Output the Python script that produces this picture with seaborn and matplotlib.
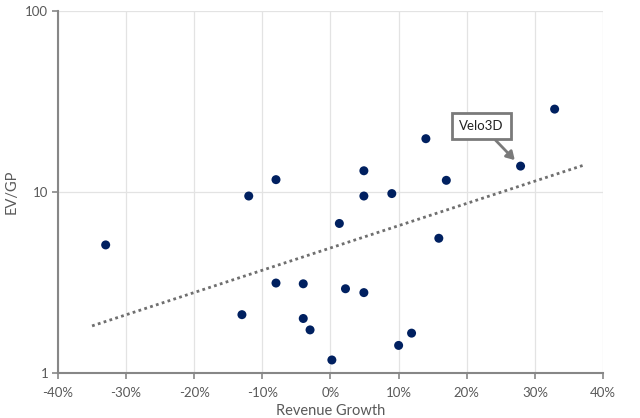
import matplotlib

matplotlib.use("Agg")
import matplotlib.pyplot as plt
import matplotlib.ticker as mticker
import pandas as pd
import seaborn as sns


# revenue growth (%) and EV/GP multiple
REVENUE_GROWTH = [-33, -13, -12, -8, -8, -4, -4, -3, 0.2, 1.3, 2.2, 4.9, 4.9, 4.9,
                  9.0, 10.0, 11.9, 14.0, 15.9, 17.0, 27.9, 32.9]
EV_GP = [5.1, 2.1, 9.5, 11.7, 3.14, 3.11, 2.0, 1.73, 1.18, 6.7, 2.92, 2.78, 13.1, 9.5,
         9.8, 1.42, 1.66, 19.7, 5.55, 11.6, 13.9, 28.7]
HIGHLIGHT = "Velo3D"
HIGHLIGHT_IDX = 20

# end points of the exponential trendline as drawn in the reference
TREND_X = [-35, 37]
TREND_Y = [1.82, 14.0]

X_TICKS = [-40, -30, -20, -10, 0, 10, 20, 30, 40]
Y_TICKS = [1, 10, 100]

GREY_TEXT = "#595959"
SPINE = "#878787"
NAVY = "#002060"


def main() -> None:
    df = pd.DataFrame({"growth": REVENUE_GROWTH, "ev_gp": EV_GP})

    sns.set_theme(style="white")
    plt.rcParams["font.family"] = ["Lato", "DejaVu Sans"]

    fig = plt.figure(figsize=(6.4, 4.18), dpi=100)
    ax = fig.add_axes([0.0906, 0.1077, 0.8516, 0.866])

    sns.scatterplot(data=df, x="growth", y="ev_gp", ax=ax, color=NAVY, s=42,
                    edgecolor="none", zorder=3)

    # on a log axis an exponential trend is a straight line between its ends
    ax.plot(TREND_X, TREND_Y, linestyle=(0, (1, 1.2)), color="#6f6f6f",
            linewidth=2, zorder=2)

    ax.set_yscale("log")
    ax.set_xlim(X_TICKS[0], X_TICKS[-1])
    ax.set_ylim(Y_TICKS[0], Y_TICKS[-1])
    ax.set_xticks(X_TICKS)
    ax.set_yticks(Y_TICKS)
    ax.yaxis.set_minor_locator(mticker.NullLocator())
    ax.xaxis.set_major_formatter(mticker.FuncFormatter(lambda v, _: f"{v:.0f}%"))
    ax.yaxis.set_major_formatter(mticker.FuncFormatter(lambda v, _: f"{v:.0f}"))

    ax.grid(True, color="#e3e3e3", linewidth=0.9)
    ax.set_axisbelow(True)
    for side in ["top", "right"]:
        ax.spines[side].set_visible(False)
    for side in ["left", "bottom"]:
        ax.spines[side].set_color(SPINE)
        ax.spines[side].set_linewidth(1.5)

    ax.tick_params(axis="both", direction="out", length=4, width=1.2, color=SPINE,
                   labelsize=9.5, labelcolor=GREY_TEXT, pad=3)
    ax.tick_params(axis="x", bottom=True, pad=6)
    ax.tick_params(axis="y", left=True)

    ax.set_xlabel("Revenue Growth", fontsize=10.5, color=GREY_TEXT, labelpad=4)
    ax.set_ylabel("EV/GP", fontsize=10.5, color=GREY_TEXT, labelpad=5)

    hx, hy = REVENUE_GROWTH[HIGHLIGHT_IDX], EV_GP[HIGHLIGHT_IDX]
    ax.annotate(
        HIGHLIGHT,
        xy=(hx, hy),
        xytext=(-28, 29),
        textcoords="offset points",
        ha="center",
        va="center",
        fontsize=9.5,
        color="#222222",
        bbox=dict(boxstyle="square,pad=0.55", fc="white", ec="#7a7a7a", lw=2),
        arrowprops=dict(arrowstyle="-|>,head_length=0.5,head_width=0.3",
                        color="#7a7a7a", lw=2, shrinkA=0, shrinkB=6),
        zorder=4,
    )

    fig.savefig("out.png", dpi=100)
    plt.close(fig)


if __name__ == "__main__":
    main()
